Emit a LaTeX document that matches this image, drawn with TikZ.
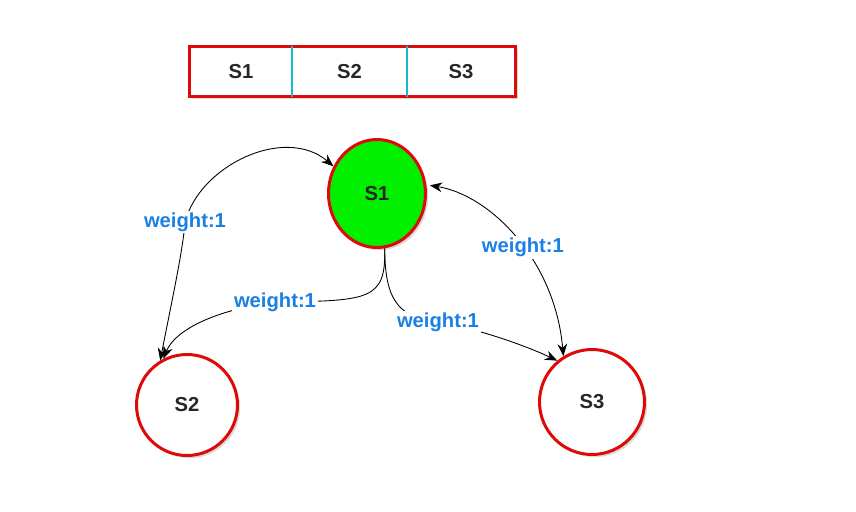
\documentclass[tikz,border=0pt]{standalone}
\usepackage{fontspec}
\setmainfont{Liberation Sans}
\usetikzlibrary{arrows.meta,shapes.geometric,shadows,backgrounds}
\definecolor{ringred}{RGB}{222,10,10}
\definecolor{cellcyan}{RGB}{20,190,200}
\definecolor{wblue}{RGB}{25,128,228}
\definecolor{nodegreen}{RGB}{0,240,0}
\begin{document}
\begin{tikzpicture}[x=0.02cm,y=-0.02cm,
	every node/.style={font=\fontsize{11.5}{13}\selectfont\bfseries,text=black!85},
	state/.style={draw=ringred,line width=0.06cm,circle,fill=white,inner sep=0,
		drop shadow={shadow xshift=1.5pt,shadow yshift=-1.5pt,opacity=0.3}},
	cell/.style={inner sep=0,minimum height=1cm},
	lbl/.style={fill=white,inner sep=1pt,text=wblue},
	edge/.style={draw,line width=0.5pt,>={Stealth[length=7pt,width=5.5pt]}}]
		\useasboundingbox (0,0) rectangle (856,511);
		% the array
		\node[cell,minimum width=2.04cm] (c1) at (241,71.5){S1};
		\node[cell,minimum width=2.3cm] (c2) at (349.5,71.5){S2};
		\node[cell,minimum width=2.16cm] (c3) at (461,71.5){S3};
		\begin{scope}[on background layer]
		\draw[ringred,fill=white,line width=0.06cm,drop shadow={shadow xshift=1.5pt,shadow yshift=-1.5pt,opacity=0.3}] (c1.north west) rectangle (c3.south east);
		\end{scope}
		\draw[cellcyan,line width=0.04cm] (c1.north east)--(c1.south east);
		\draw[cellcyan,line width=0.04cm] (c2.north east)--(c2.south east);
		% the graph
		\node[state,ellipse,fill=nodegreen,minimum width=1.94cm,minimum height=2.16cm] (s1) at (377,193.5){S1};
		\node[state,minimum size=2.02cm] (s2) at (187,405){S2};
		\node[state,minimum size=2.1cm] (s3) at (592,402){S3};
		\draw[edge,<->] (s2.121) .. controls (172,300) and (183,250) .. (185,222) node[lbl]{weight:1}
			.. controls (200,165) and (285,125) .. (s1.148);
		\draw[edge,->] (s1.278) .. controls (386,300) and (370,301) .. (275,302) node[lbl]{weight:1}
			.. controls (215,310) and (175,330) .. (s2.117);
		\draw[edge,->] (s1.278) .. controls (385,295) and (395,318) .. (438,322) node[lbl]{weight:1}
			.. controls (470,327) and (520,343) .. (s3.130);
		\draw[edge,<->,shorten <=2pt] (s1.10) .. controls (490,195) and (555,260) .. node[lbl,pos=0.55]{weight:1} (s3.122);
		% \draw[edge,->] (s1) to[bend left] (s3);
		\end{tikzpicture}
\end{document}
